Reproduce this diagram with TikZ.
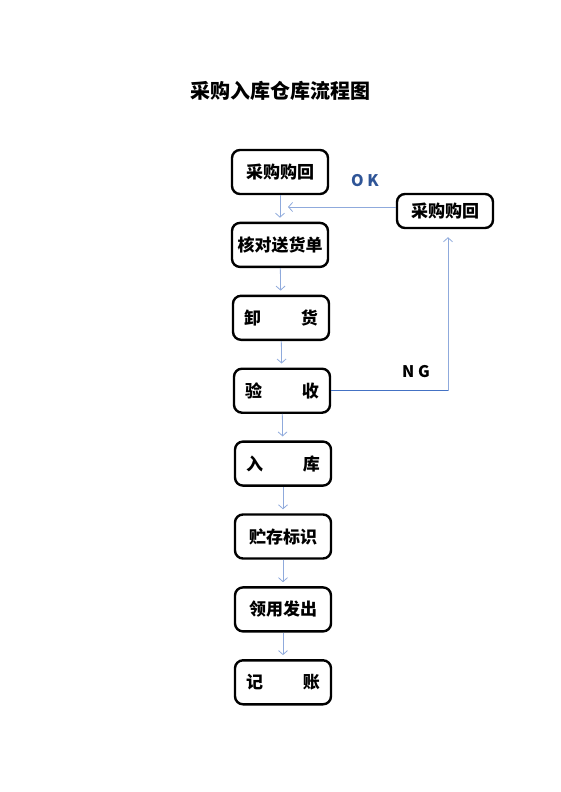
\documentclass[tikz,border=0pt]{standalone}
\usepackage{fontspec}
\usepackage{tikz}
\usetikzlibrary{arrows.meta, positioning}
\newfontfamily\cjk{Noto Sans CJK SC}

\definecolor{flowblue}{RGB}{143,170,220}
\definecolor{ngblue}{RGB}{68,114,196}
\definecolor{okblue}{RGB}{47,85,151}

\tikzset{
	procbox/.style = {draw, line width=2.4pt, rounded corners=8pt, minimum width=96pt, minimum height=44pt, inner sep=0pt, font=\cjk\bfseries\fontsize{17}{19}\selectfont},
	flow/.style = {draw=flowblue, line width=0.8pt, -{Straight Barb[length=4pt,width=9pt]}}
}

\begin{document}
\begin{tikzpicture}[x=1pt, y=1pt, on grid, node distance = 72.9pt]
		\useasboundingbox (0,0) rectangle (560,-792);
		\node[font=\cjk\bfseries\fontsize{20}{22}\selectfont] (title) at (280,-91) {采购入库仓库流程图};
		
		\node[procbox] (buyback) at (280,-172) {采购购回};
		\node[procbox, below = of buyback] (check) {核对送货单};
		\node[procbox, below = of check, xshift=1pt] (unload) {\makebox[74pt]{卸\hfill 货}};
		\node[procbox, below = of unload, xshift=1pt] (verify) {\makebox[74pt]{验\hfill 收}};
		\node[procbox, below = of verify, xshift=1pt] (store) {\makebox[74pt]{入\hfill 库}};
		\node[procbox, below = of store] (mark) {贮存标识};
		\node[procbox, below = of mark] (issue) {领用发出};
		\node[procbox, below = of issue] (account) {\makebox[74pt]{记\hfill 账}};
		\node[procbox, minimum height=34pt] (retbuy) at (445,-211) {采购购回};
		
		\coordinate (okend) at (288,-207);
		\coordinate (ngcorner) at ([xshift=3pt]verify.east -| retbuy.south);
		
		\path[flow, shorten >=4pt]
		(buyback) edge (check)
		(check)   edge (unload)
		(unload)  edge (verify)
		(verify)  edge (store)
		(store)   edge (mark)
		(mark)    edge (issue)
		(issue)   edge (account)
		;
		\draw[flow] (retbuy.west |- okend) -- (okend);
		\draw[ngblue, line width=1.3pt] (verify.east) -- (ngcorner);
		\draw[flow, shorten >=8pt] (ngcorner) -- (ngcorner |- retbuy.south);
		
		\node[font=\cjk\bfseries\fontsize{16}{18}\selectfont, text=okblue] (ok) at (365,-181) {O K};
		\node[font=\cjk\bfseries\fontsize{16}{18}\selectfont] (ng) at (416,-372) {N G};
\end{tikzpicture}
\end{document}
